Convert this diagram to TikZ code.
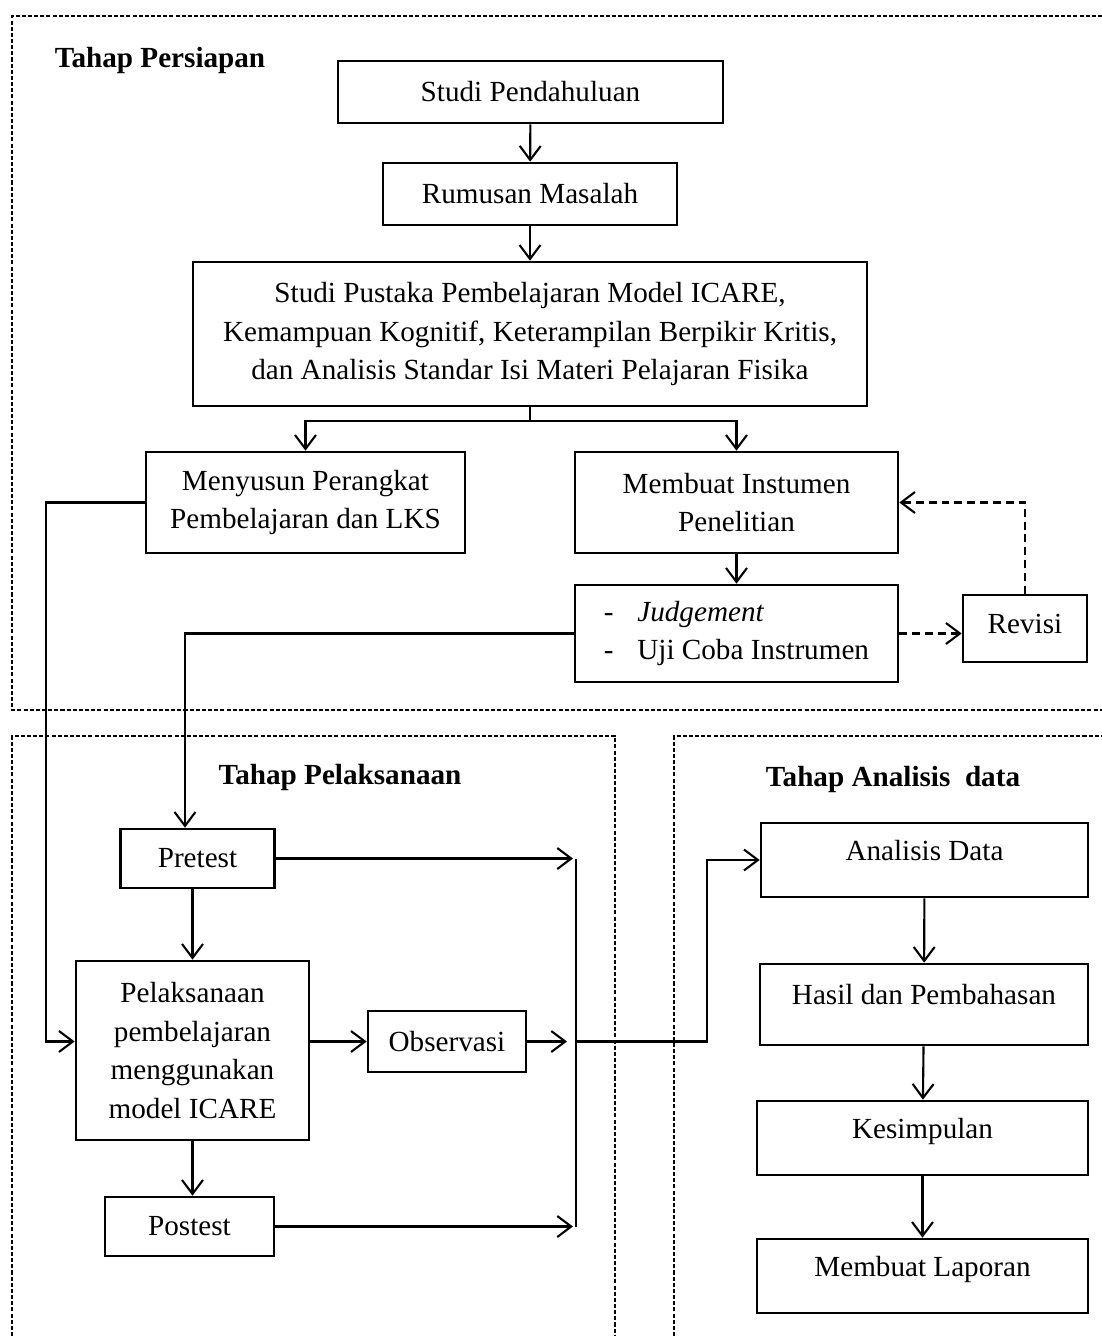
\documentclass[tikz,border=0pt]{standalone}
\usepackage{fontspec}
\setmainfont{Liberation Serif}
\usepackage{tikz}
\usetikzlibrary{arrows.meta, positioning, calc}

\begin{document}
\begin{tikzpicture}[
    x=0.02cm, y=-0.02cm,
    every node/.style={font=\fontsize{16.6}{22}\selectfont},
    box/.style={
      rectangle, draw, line width=1.5pt,
      align=center, inner sep=0pt
    },
    hightext/.style={text height=11.5pt, text depth=11pt},
    heading/.style={font=\fontsize{16.6}{22}\selectfont\bfseries},
    arrow/.style={-{Straight Barb[length=0.28cm, width=0.42cm]}, line width=1.2pt},
    dasharrow/.style={arrow, dash pattern=on 4.5pt off 2.8pt},
    frame/.style={line width=0.85pt, dash pattern=on 2.3pt off 1.2pt}
  ]
    \useasboundingbox (0,0) rectangle (1102,1336);

    % frames of the three stages
    \draw[frame] (1102,16) -- (12,16) -- (12,710) -- (1102,710);
    \draw[frame] (12,1336) -- (12,736) -- (615,736) -- (615,1336);
    \draw[frame] (674,1336) -- (674,736) -- (1102,736);

    \node[heading] (persiapan) at (160,60) {Tahap Persiapan};
    \node[heading] (pelaksanaanlabel) at (340,777) {Tahap Pelaksanaan};
    \node[heading] (analisislabel) at (893,779) {Tahap Analisis\ \ data};

    % Tahap Persiapan
    \node[box, minimum width=7.7cm, minimum height=1.24cm] (pendahuluan) at (530.5,92)
      {Studi Pendahuluan};
    \node[box, minimum width=5.88cm, minimum height=1.24cm] (rumusan) at (530,194)
      {Rumusan Masalah};
    \node[box, minimum width=13.48cm, minimum height=2.88cm] (pustaka) at (530,334)
      {Studi Pustaka Pembelajaran Model ICARE,\\
       Kemampuan Kognitif, Keterampilan Berpikir Kritis,\\
       dan Analisis Standar Isi Materi Pelajaran Fisika};
    \node[box, minimum width=6.38cm, minimum height=2.02cm] (menyusun) at (305.5,502.5)
      {Menyusun Perangkat\\ Pembelajaran dan LKS};
    \node[box, minimum width=6.46cm, minimum height=2.02cm] (instrumen) at (736.5,502.5)
      {Membuat Instumen\\ Penelitian};
    \node[box, align=left, minimum width=6.46cm, minimum height=1.94cm] (judgement) at (736.5,633.5)
      {\makebox[19pt][l]{-}\textit{Judgement}\\ \makebox[19pt][l]{-}Uji Coba Instrumen};
    \node[box, text depth=5pt, minimum width=2.48cm, minimum height=1.34cm] (revisi) at (1025,628.5)
      {Revisi};

    % Tahap Pelaksanaan
    \node[box, minimum width=3.08cm, minimum height=1.18cm] (pretest) at (197.5,858.5) {Pretest};
    \node[box, minimum width=4.66cm, minimum height=3.58cm] (pelaksanaan) at (192.5,1050.5)
      {Pelaksanaan\\ pembelajaran\\ menggunakan\\ model ICARE};
    \node[box, minimum width=3.16cm, minimum height=1.22cm] (observasi) at (447,1041.5) {Observasi};
    \node[box, minimum width=3.38cm, minimum height=1.18cm] (postest) at (189.5,1226.5) {Postest};

    % Tahap Analisis data
    \node[box, hightext, minimum width=6.54cm, minimum height=1.48cm] (analisis) at (924.5,860)
      {Analisis Data};
    \node[box, hightext, minimum width=6.56cm, minimum height=1.62cm] (hasil) at (924,1004.5)
      {Hasil dan Pembahasan};
    \node[box, hightext, minimum width=6.62cm, minimum height=1.48cm] (kesimpulan) at (922.5,1138)
      {Kesimpulan};
    \node[box, hightext, minimum width=6.62cm, minimum height=1.48cm] (laporan) at (922.5,1276)
      {Membuat Laporan};

    \coordinate (bustop) at (576,858.5);
    \coordinate (busbot) at (576,1226.5);

    \draw[arrow] (pendahuluan) -- (rumusan);
    \draw[arrow] (rumusan) -- (pustaka);
    \draw[line width=1.2pt] (pustaka.south) -- ++(0,14) coordinate (split);
    \draw[arrow] (split) -| (menyusun.north);
    \draw[arrow] (split) -| (instrumen.north);
    \draw[arrow] (instrumen) -- (judgement);
    \draw[dasharrow] (judgement.east) -- (judgement.east -| revisi.west);
    \draw[dasharrow] (revisi.north) |- (instrumen.east);
    \draw[arrow] (judgement.west) -| ([xshift=-0.25cm]pretest.north);
    \draw[arrow] (menyusun.west) -- ++(-99,0) |- (observasi.west -| pelaksanaan.west);

    \draw[arrow] (pelaksanaan.north |- pretest.south) -- (pelaksanaan.north);
    \draw[arrow] (observasi.west -| pelaksanaan.east) -- (observasi.west);
    \draw[arrow] (pelaksanaan.south) -- (pelaksanaan.south |- postest.north);

    \draw[line width=1.2pt] (bustop) -- (busbot);
    \draw[arrow] (pretest.east) -- ([xshift=-0.06cm]pretest.east -| bustop);
    \draw[arrow] (postest.east) -- ([xshift=-0.06cm]postest.east -| busbot);
    \draw[arrow] (observasi.east) -- ([xshift=-0.18cm]observasi.east -| bustop);
    \draw[arrow] (observasi.east -| bustop) -- ++(131,0) |- (analisis.west);

    \draw[arrow] (analisis) -- (hasil);
    \draw[arrow] (hasil) -- (kesimpulan);
    \draw[arrow] (kesimpulan) -- (laporan);
  \end{tikzpicture}
\end{document}
